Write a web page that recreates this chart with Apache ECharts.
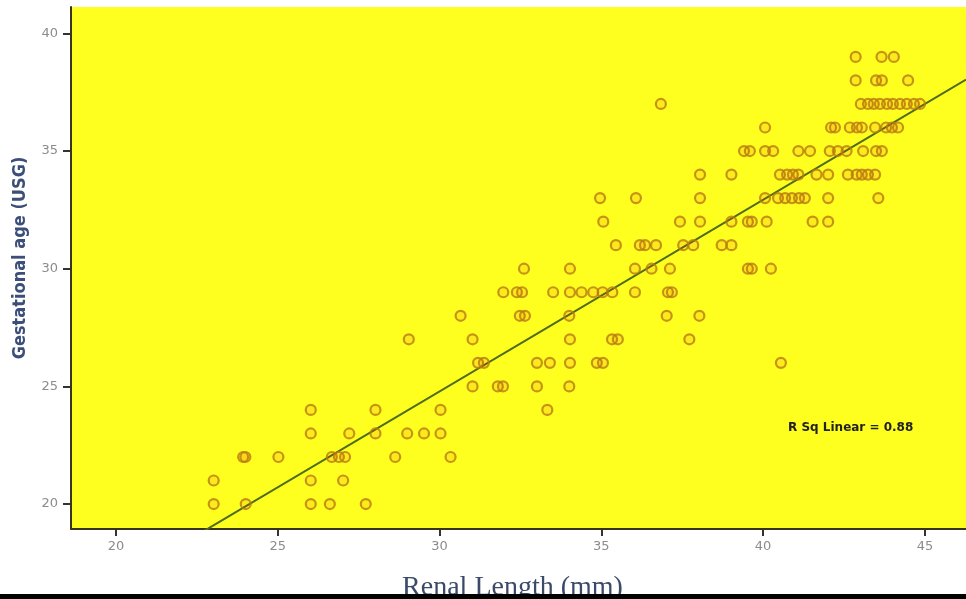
<!DOCTYPE html>
<html>
<head>
<meta charset="utf-8">
<title>Renal Length vs Gestational age</title>
<script src="https://cdn.jsdelivr.net/npm/echarts@6/dist/echarts.min.js"></script>
<style>
  html, body { margin: 0; padding: 0; background: #fff; }
  #main { width: 966px; height: 599px; }
</style>
</head>
<body>
<div id="main"></div>
<script>
// gestational age (weeks) of each row of points
var ages = [20, 21, 22, 23, 24, 25, 26, 27, 28, 29, 30, 31, 32, 33, 34, 35, 36, 37, 38, 39];
// renal length (mm) of the points in each age row
var lengthRows = [
  [23.02, 24.01, 26.02, 26.61, 27.72],
  [23.02, 26.02, 27.02],
  [23.93, 24.0, 25.02, 26.67, 26.89, 27.08, 28.63, 30.34],
  [26.02, 27.21, 28.02, 29.0, 29.52, 30.03],
  [26.02, 28.02, 30.03, 33.33],
  [31.02, 31.8, 31.96, 33.01, 34.01],
  [31.19, 31.37, 33.01, 33.41, 34.03, 34.86, 35.05, 40.55],
  [29.05, 31.02, 34.03, 35.33, 35.51, 37.72],
  [30.65, 32.48, 32.64, 34.01, 37.02, 38.03],
  [31.97, 32.39, 32.55, 33.51, 34.03, 34.39, 34.75, 35.04, 35.34, 36.04, 37.06, 37.18],
  [32.61, 34.03, 36.04, 36.55, 37.12, 39.53, 39.65, 40.24],
  [35.45, 36.19, 36.35, 36.69, 37.53, 37.84, 38.72, 39.02],
  [35.06, 37.43, 38.05, 39.02, 39.53, 39.65, 40.11, 41.53, 42.01],
  [34.96, 36.07, 38.05, 40.06, 40.46, 40.68, 40.89, 41.11, 41.29, 42.01, 43.56],
  [38.05, 39.02, 40.52, 40.74, 40.92, 41.09, 41.65, 42.01, 42.62, 42.89, 43.05, 43.24, 43.46],
  [39.41, 39.59, 40.06, 40.31, 41.09, 41.45, 42.06, 42.31, 42.58, 43.09, 43.49, 43.67],
  [40.06, 42.1, 42.22, 42.68, 42.9, 43.05, 43.46, 43.8, 43.98, 44.17],
  [36.84, 43.02, 43.24, 43.42, 43.61, 43.83, 44.01, 44.23, 44.44, 44.66, 44.85],
  [42.86, 43.49, 43.67, 44.48],
  [42.86, 43.66, 44.04]
];
var xTicks = [20, 25, 30, 35, 40, 45];
var yTicks = [20, 25, 30, 35, 40];
// fit line
var fitSlope = 0.8145;
var fitIntercept = 0.35;
var rSquared = 0.88;

var xMin = 18.61, xMax = 46.27;
var yMin = 18.94, yMax = 41.12;

var points = [];
ages.forEach(function (age, i) {
  lengthRows[i].forEach(function (len) {
    points.push([len, age]);
  });
});

function fit(x) {
  return fitSlope * x + fitIntercept;
}
var fitLine = [[xMin, fit(xMin)], [xMax, fit(xMax)]];

var chart = echarts.init(document.getElementById("main"));
chart.setOption({
  backgroundColor: "#ffffff",
  animation: false,
  grid: {
    left: 71,
    right: 0,
    top: 7,
    bottom: 70,
    containLabel: false,
    outerBoundsMode: "none",
    show: true,
    backgroundColor: "#ffff1f",
    borderWidth: 0,
  },
  xAxis: {
    type: "value",
    min: xMin,
    max: xMax,
    name: "Renal Length (mm)",
    nameLocation: "middle",
    nameGap: 45,
    nameTextStyle: {
      fontFamily: "Liberation Serif, serif",
      fontSize: 28,
      color: "#3b4a68",
      padding: [0, 12, 0, 0],
    },
    axisLine: { onZero: false, lineStyle: { color: "#3a3418", width: 2 } },
    axisTick: { customValues: xTicks, length: 7, lineStyle: { color: "#333", width: 2 } },
    axisLabel: {
      customValues: xTicks,
      margin: 11,
      color: "#8c8c8c",
      fontSize: 13,
      fontFamily: "DejaVu Sans, sans-serif",
    },
    splitLine: { show: false },
  },
  yAxis: {
    type: "value",
    min: yMin,
    max: yMax,
    axisLine: { onZero: false, lineStyle: { color: "#3a3418", width: 2 } },
    axisTick: { customValues: yTicks, length: 8, lineStyle: { color: "#333", width: 2 } },
    axisLabel: {
      customValues: yTicks,
      margin: 13,
      color: "#8c8c8c",
      fontSize: 13,
      fontFamily: "DejaVu Sans, sans-serif",
    },
    splitLine: { show: false },
  },
  series: [
    {
      name: "fit",
      type: "line",
      data: fitLine,
      symbol: "none",
      lineStyle: { color: "#4f6c1c", width: 2 },
      z: 1,
    },
    {
      name: "cases",
      type: "scatter",
      data: points,
      symbol: "circle",
      symbolSize: 10,
      itemStyle: {
        color: "rgba(225, 55, 10, 0.12)",
        borderColor: "#b87a12",
        borderWidth: 2.2,
      },
      z: 2,
    },
  ],
  graphic: [
    {
      // y axis title, placed by hand so it sits a little above the middle like the original
      type: "text",
      x: 20,
      y: 258,
      rotation: Math.PI / 2,
      style: {
        text: "Gestational age (USG)",
        font: "bold 18px 'Liberation Sans Narrow', 'DejaVu Sans Condensed', sans-serif",
        fill: "#3c4f78",
        align: "center",
        verticalAlign: "middle",
      },
    },
    {
      type: "text",
      left: 788,
      top: 422,
      style: {
        text: "R Sq Linear = " + rSquared.toFixed(2),
        font: "bold 12px DejaVu Sans, sans-serif",
        fill: "#222",
      },
    },
    {
      type: "rect",
      left: 0,
      top: 594,
      shape: { width: 966, height: 5 },
      style: { fill: "#000" },
      z: 100,
    },
  ],
});
</script>
</body>
</html>
